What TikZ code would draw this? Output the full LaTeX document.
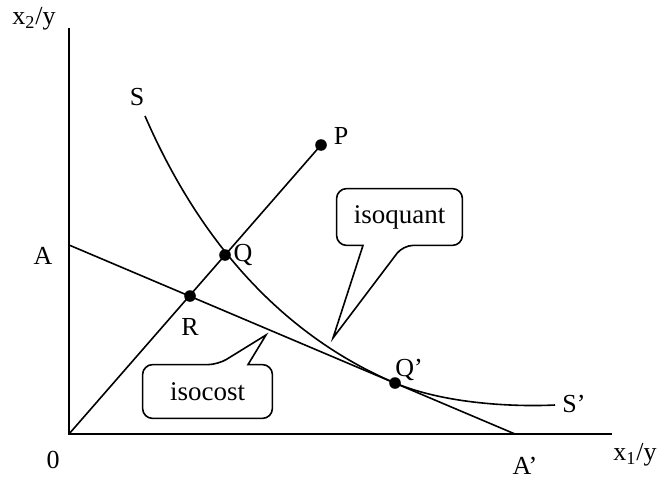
\documentclass[tikz,border=0pt]{standalone}
\usepackage{fontspec}
\setmainfont{Liberation Serif}
\usetikzlibrary{positioning}

\begin{document}
\begin{tikzpicture}[
    x=0.5pt, y=-0.5pt,
    every node/.style={font=\fontsize{13}{15}\selectfont},
    axis/.style={line width=1pt},
    line/.style={line width=0.8pt},
    dot/.style={circle, fill=black, inner sep=0pt, minimum size=5.8pt},
    tag/.style={inner sep=1pt},
    callout/.style={inner sep=0pt, font=\fontsize{13.5}{16}\selectfont},
    bubble/.style={line width=0.8pt}
]
    \useasboundingbox (0,0) rectangle (657,481);

    % Axes
    \coordinate (O) at (69,434);
    \coordinate (ytop) at (69,28);
    \coordinate (xend) at (612,434);
    \draw [axis] (ytop) -- (O) -- (xend);
    \node (ylab) at (34,19) {x\textsubscript{2}/y};
    \node (xlab) at (635,455) {x\textsubscript{1}/y};
    \node (zero) at (53,460) {0};

    % Points
    \node [dot] (P) at (321,145) {};
    \node [dot] (Q) at (225,255) {};
    \node [dot] (R) at (190,296) {};
    \node [dot] (Qp) at (395,383) {};

    % Isocost line A -- A'
    \coordinate (A) at (69,245);
    \coordinate (Ap) at (515,434);
    \draw [line] (A) -- (Ap);
    \node (lA) at (43,256) {A};
    \node [tag] (lAp) at (525,466) {A'};

    % Ray through R and Q
    \draw [line] (O) -- (P.center);

    % Isoquant S -- S'
    \coordinate (S) at (145,116);
    \coordinate (Sp) at (555,405);
    \draw [line] (S) .. controls (215,277) and (315,349) .. (Qp.center)
                     .. controls (445,404) and (515,407) .. (Sp);
    \node (lS) at (137,97) {S};
    \node (lSp) at (574,404) {S'};

    % Point labels
    \node [tag, right=0pt of Q] (lQ) {Q};
    \node [tag, below=7pt of R] (lR) {R};
    \node (lP) at (341,136) {P};
    \node (lQp) at (409,370) {Q'};

    % Callouts
    \node [callout, minimum width=62.5pt, minimum height=28pt] (isoquant) at (399.5,217) {isoquant};
    \coordinate (tipq) at (333,338);
    \draw [bubble] (tipq) -- ([xshift=-18.25pt]isoquant.south) [rounded corners=5pt]
        -- (isoquant.south west) -- (isoquant.north west) -- (isoquant.north east)
        -- (isoquant.south east) -- ([xshift=1.75pt]isoquant.south) [sharp corners] -- cycle;

    \node [callout, minimum width=64.5pt, minimum height=26.5pt] (isocost) at (207.5,391.5) {isocost};
    \coordinate (tipc) at (266,335);
    \draw [bubble] (tipc) -- ([xshift=20.25pt]isocost.north) [rounded corners=5pt]
        -- (isocost.north east) -- (isocost.south east) -- (isocost.south west)
        -- (isocost.north west) -- ([xshift=5.25pt]isocost.north) [sharp corners] -- cycle;

\end{tikzpicture}
\end{document}
